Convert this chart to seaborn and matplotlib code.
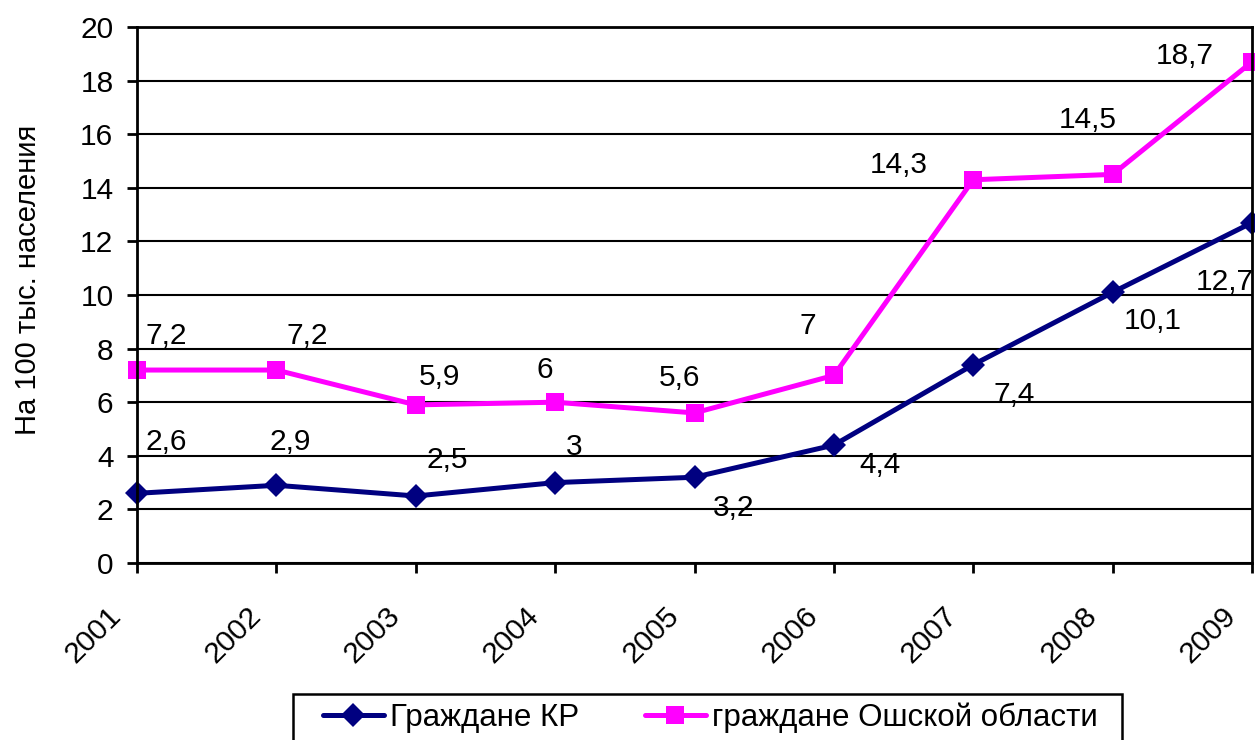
import matplotlib
matplotlib.use("Agg")
import matplotlib.pyplot as plt
import matplotlib.transforms as mtransforms
from matplotlib.lines import Line2D
from matplotlib.patches import Rectangle
import seaborn as sns
import pandas as pd

# Series values per year
years = [2001, 2002, 2003, 2004, 2005, 2006, 2007, 2008, 2009]
kr_values = [2.6, 2.9, 2.5, 3, 3.2, 4.4, 7.4, 10.1, 12.7]
osh_values = [7.2, 7.2, 5.9, 6, 5.6, 7, 14.3, 14.5, 18.7]
series_names = ["Граждане КР", "граждане Ошской области"]
y_label = "На 100 тыс. населения"
y_ticks = [0, 2, 4, 6, 8, 10, 12, 14, 16, 18, 20]

df = pd.DataFrame({
    "year": years * 2,
    "value": kr_values + osh_values,
    "series": [series_names[0]] * len(years) + [series_names[1]] * len(years),
})

sns.set_theme(style="white")
plt.rcParams["font.family"] = ["Liberation Sans", "DejaVu Sans"]
plt.rcParams.update({
    "text.color": "black",
    "axes.labelcolor": "black",
    "xtick.color": "black",
    "ytick.color": "black",
})

FS = 21.5
NAVY = "#000080"
MAGENTA = "#FF00FF"
DIAMOND_MS = 12.5
SQUARE_MS = 13.5
LW = 3.6

W, H = 1255, 740
fig = plt.figure(figsize=(W / 100, H / 100), dpi=100)
ax = fig.add_axes([137 / W, 1 - 563 / H, (1252 - 137) / W, (563 - 27) / H])

palette = {series_names[0]: NAVY, series_names[1]: MAGENTA}
markers = {series_names[0]: "D", series_names[1]: "s"}
sns.lineplot(data=df, x="year", y="value", hue="series", style="series",
             palette=palette, markers=markers, dashes=False, linewidth=LW,
             markersize=SQUARE_MS, markeredgewidth=0, ax=ax, clip_on=False,
             legend=False)
for ln in ax.lines:
    if ln.get_marker() == "D":
        ln.set_markersize(DIAMOND_MS)

ax.set_xlim(years[0], years[-1])
ax.set_ylim(0, 20)
ax.set_yticks(y_ticks)
ax.set_xticks(years)
ax.set_xticklabels([str(y) for y in years], rotation=45, ha="right",
                   rotation_mode="anchor", fontsize=FS)
ax.set_yticklabels([str(t) for t in y_ticks], fontsize=FS)
ax.tick_params(axis="both", direction="out", length=7, width=2, color="black",
               labelcolor="black", left=True, bottom=True, pad=10)
shift = mtransforms.ScaledTranslation(-30 / 100, -15 / 100, fig.dpi_scale_trans)
for lbl in ax.get_xticklabels():
    lbl.set_transform(lbl.get_transform() + shift)

ax.set_xlabel("")
ax.set_ylabel(y_label, fontsize=21, color="black")
ax.yaxis.set_label_coords((42 - 137) / (1252 - 137), (563 - 280) / (563 - 27))
ax.yaxis.grid(True, color="black", linewidth=1.5)
ax.xaxis.grid(False)
for s in ax.spines.values():
    s.set_color("black")
    s.set_linewidth(2)
ax.set_axisbelow(True)


def fmt(v):
    return (str(int(v)) if float(v).is_integer() else str(v)).replace(".", ",")


# Value labels, offsets in pixels from each point
osh_offsets = [(29, 37), (31, 37), (24, 31), (-10, 35), (-15, 38),
               (-26, 52), (-74, 18), (-25, 57), (-67, 9)]
kr_offsets = [(29, 54), (14, 46), (32, 39), (19, 39), (39, -28),
              (46, -17), (41, -27), (40, -26), (-27, -56)]
for vals, offs in ((osh_values, osh_offsets), (kr_values, kr_offsets)):
    for x, v, (dx, dy) in zip(years, vals, offs):
        ax.annotate(fmt(v), (x, v), xytext=(dx, dy - 3),
                    textcoords="offset pixels", ha="center", va="center",
                    fontsize=FS, color="black", annotation_clip=False)

# Legend below the axes, in an open-bottomed box
fig.patches.append(Rectangle((293 / W, -0.05), (1122 - 293) / W,
                             (1 - 694 / H) + 0.05, transform=fig.transFigure,
                             fill=False, edgecolor="black", linewidth=1.8))
handles = [
    Line2D([], [], color=NAVY, marker="D", markersize=DIAMOND_MS, linewidth=LW,
           markeredgewidth=0),
    Line2D([], [], color=MAGENTA, marker="s", markersize=SQUARE_MS, linewidth=LW,
           markeredgewidth=0),
]
fig.legend(handles, series_names, loc="center left",
           bbox_to_anchor=(323 / W, 1 - 718 / H), ncol=2, fontsize=22.5,
           frameon=False, handlelength=1.95, handletextpad=0.2,
           columnspacing=2.1, borderpad=0, borderaxespad=0)

fig.savefig("out.png", dpi=100, facecolor="white")
